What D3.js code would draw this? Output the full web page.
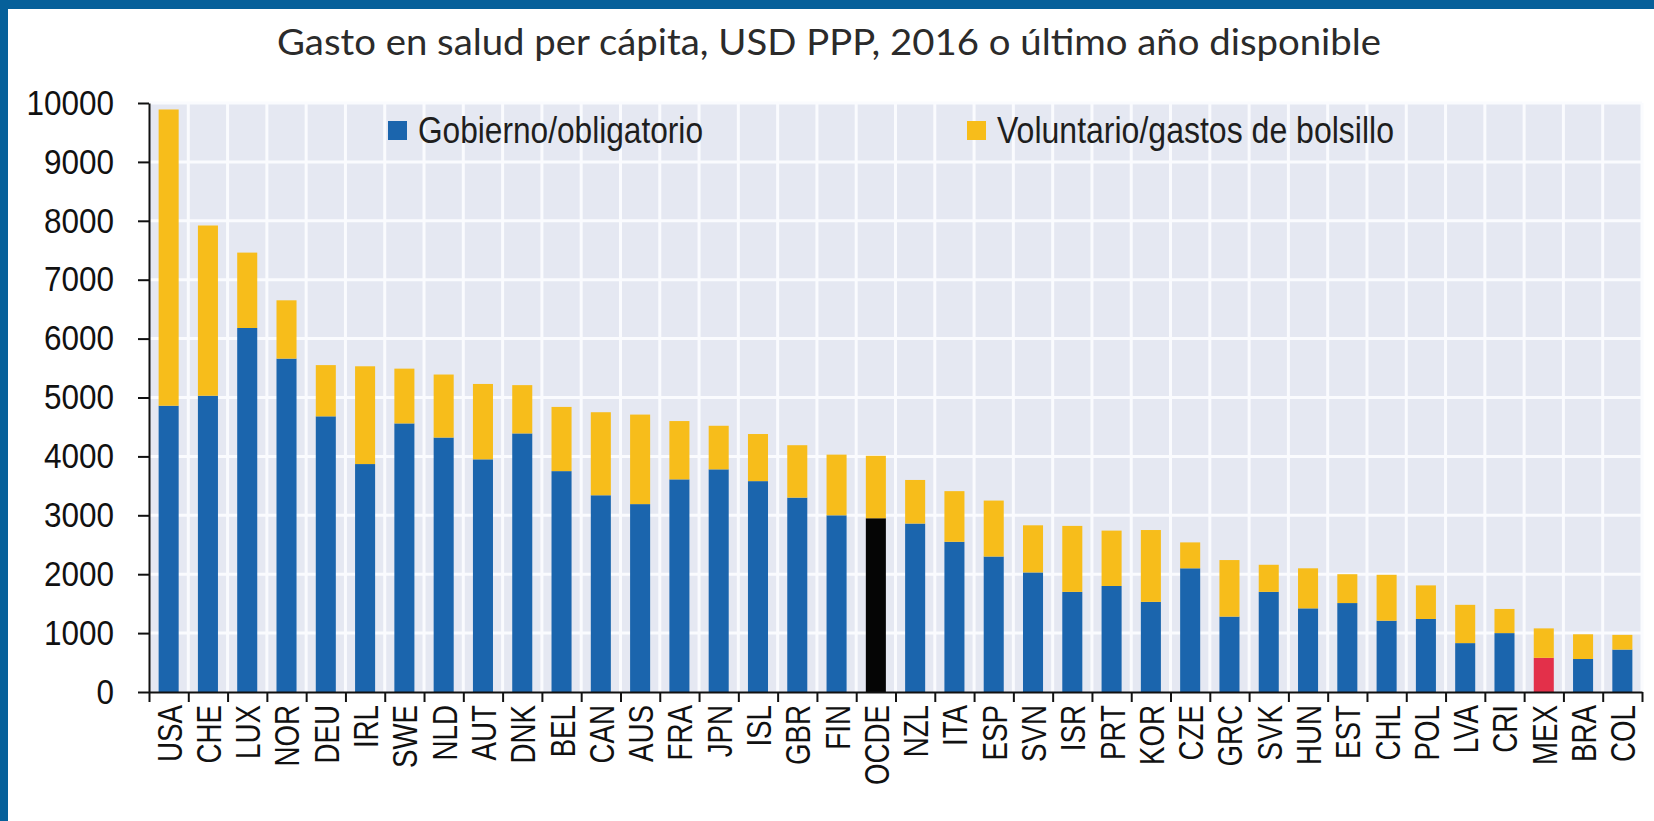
<!DOCTYPE html>
<html>
<head>
<meta charset="utf-8">
<script src="https://cdn.jsdelivr.net/npm/d3@7/dist/d3.min.js"></script>
<style>
  body { margin: 0; background: #fff; }
  svg { display: block; }
</style>
</head>
<body>
<div id="chart"></div>
<script>
// data (USD PPP per capita)
const categories = ["USA", "CHE", "LUX", "NOR", "DEU", "IRL", "SWE", "NLD", "AUT", "DNK",
  "BEL", "CAN", "AUS", "FRA", "JPN", "ISL", "GBR", "FIN", "OCDE", "NZL",
  "ITA", "ESP", "SVN", "ISR", "PRT", "KOR", "CZE", "GRC", "SVK", "HUN",
  "EST", "CHL", "POL", "LVA", "CRI", "MEX", "BRA", "COL"];
const govValues = [4860, 5030, 6180, 5660, 4680, 3870, 4560, 4320, 3950, 4390,
  3750, 3340, 3190, 3610, 3780, 3580, 3300, 3000, 2950, 2860,
  2550, 2300, 2030, 1700, 1800, 1530, 2100, 1280, 1700, 1420,
  1510, 1210, 1240, 830, 1000, 580, 560, 720];
const volValues = [5030, 2890, 1280, 990, 870, 1660, 930, 1070, 1280, 820,
  1090, 1410, 1520, 990, 740, 800, 890, 1030, 1060, 740,
  860, 950, 800, 1120, 940, 1220, 440, 960, 460, 680,
  490, 780, 570, 650, 410, 500, 420, 250];
const seriesNames = ["Gobierno/obligatorio", "Voluntario/gastos de bolsillo"];
const yTicks = [0, 1000, 2000, 3000, 4000, 5000, 6000, 7000, 8000, 9000, 10000];
const titleText = "Gasto en salud per cápita, USD PPP, 2016 o último año disponible";

const W = 1654, H = 821;
const plotLeft = 149, plotRight = 1642, plotTop = 103, plotBottom = 692;
const BLUE = "#1b65ad", YELLOW = "#f7bd1b", FRAME = "#06609a";
const special = { OCDE: "#050505", MEX: "#e3304a" };
const sans = "'Liberation Sans', Arial, sans-serif";
const squeeze = 0.77; // the axis font in the original is a narrow face
const ySqueeze = 0.9;

const svg = d3.select("#chart").append("svg")
  .attr("width", W)
  .attr("height", H);

svg.append("rect").attr("width", W).attr("height", H).attr("fill", "#fff");
// blue frame (top + left)
svg.append("rect").attr("x", 0).attr("y", 0).attr("width", W).attr("height", 9).attr("fill", FRAME);
svg.append("rect").attr("x", 0).attr("y", 0).attr("width", 8).attr("height", H).attr("fill", FRAME);

svg.append("text")
  .attr("x", 829)
  .attr("y", 55)
  .attr("text-anchor", "middle")
  .attr("font-family", "Lato, 'Open Sans', sans-serif")
  .attr("font-size", 36)
  .attr("fill", "#2b2b2b")
  .attr("textLength", 1104)
  .attr("lengthAdjust", "spacingAndGlyphs")
  .text(titleText);

let x = d3.scaleBand()
  .domain(categories)
  .range([plotLeft, plotRight])
  .paddingInner(0.49)
  .paddingOuter(0.245);
let y = d3.scaleLinear()
  .domain([0, 10000])
  .range([plotBottom, plotTop]);
// band boundaries, used for the vertical grid and the x ticks
let xb = d3.scaleLinear()
  .domain([0, categories.length])
  .range([plotLeft, plotRight]);

// plot background + white grid
svg.append("rect")
  .attr("x", plotLeft).attr("y", plotTop)
  .attr("width", plotRight - plotLeft).attr("height", plotBottom - plotTop)
  .attr("fill", "#e5e8f2");
svg.append("g")
  .selectAll("line")
  .data(d3.range(1, categories.length + 1))
  .enter().append("line")
  .attr("x1", (d) => xb(d)).attr("x2", (d) => xb(d))
  .attr("y1", plotTop).attr("y2", plotBottom)
  .attr("stroke", "#fafbfe")
  .attr("stroke-width", 3);
svg.append("g")
  .selectAll("line")
  .data(yTicks.slice(1))
  .enter().append("line")
  .attr("x1", plotLeft).attr("x2", plotRight)
  .attr("y1", (d) => y(d)).attr("y2", (d) => y(d))
  .attr("stroke", "#fafbfe")
  .attr("stroke-width", 3);

// stacked bars
let rows = categories.map((c, i) => ({ name: c, gov: govValues[i], vol: volValues[i] }));
let stack = d3.stack().keys(["gov", "vol"]);
let layers = stack(rows);

let g = svg.selectAll(".layer")
  .data(layers)
  .enter().append("g")
  .attr("class", "layer");
g.selectAll("rect")
  .data((d) => d.map((p) => ({ p: p, key: d.key })))
  .enter().append("rect")
  .attr("x", (d) => x(d.p.data.name))
  .attr("width", x.bandwidth())
  .attr("y", (d) => y(d.p[1]))
  .attr("height", (d) => y(d.p[0]) - y(d.p[1]))
  .attr("fill", (d) => {
    if (d.key === "vol") return YELLOW;
    return special[d.p.data.name] || BLUE;
  });

// legend
let legend = [
  { name: seriesNames[0], color: BLUE, x: 388, len: 285 },
  { name: seriesNames[1], color: YELLOW, x: 967, len: 397 },
];
let lg = svg.selectAll(".legend")
  .data(legend)
  .enter().append("g")
  .attr("class", "legend");
lg.append("rect")
  .attr("x", (d) => d.x)
  .attr("y", 121)
  .attr("width", 19)
  .attr("height", 19)
  .attr("fill", (d) => d.color);
lg.append("text")
  .attr("x", (d) => d.x + 30)
  .attr("y", 143)
  .attr("font-family", sans)
  .attr("font-size", 37)
  .attr("fill", "#1e1e1e")
  .attr("textLength", (d) => d.len)
  .attr("lengthAdjust", "spacingAndGlyphs")
  .text((d) => d.name);

// y axis
let yAxis = svg.append("g")
  .attr("transform", "translate(" + plotLeft + ",0)")
  .call(d3.axisLeft(y).tickValues(yTicks).tickFormat(d3.format("d"))
    .tickSize(11).tickSizeOuter(0).tickPadding(10));
yAxis.selectAll("text")
  .attr("transform", "scale(" + ySqueeze + ",1)")
  .attr("x", -35 / ySqueeze)
  .attr("font-family", sans)
  .attr("font-size", 35)
  .attr("fill", "#111");

// x axis: ticks on band boundaries, labels centred on bars
let xTicks = svg.append("g")
  .attr("transform", "translate(0," + plotBottom + ")")
  .call(d3.axisBottom(xb).ticks(categories.length).tickFormat("").tickSize(10).tickSizeOuter(0));
let xAxis = svg.append("g")
  .attr("transform", "translate(0," + plotBottom + ")")
  .call(d3.axisBottom(x).tickSize(0));
xAxis.select(".domain").remove();
xAxis.selectAll("text")
  .attr("transform", "rotate(-90) scale(" + squeeze + ",1)")
  .attr("x", -13 / squeeze)
  .attr("y", 0)
  .attr("dy", "0.36em")
  .style("text-anchor", "end")
  .attr("font-family", sans)
  .attr("font-size", 36)
  .attr("fill", "#111");

svg.selectAll(".domain, .tick line")
  .attr("stroke", "#111")
  .attr("stroke-width", 2);
</script>
</body>
</html>
